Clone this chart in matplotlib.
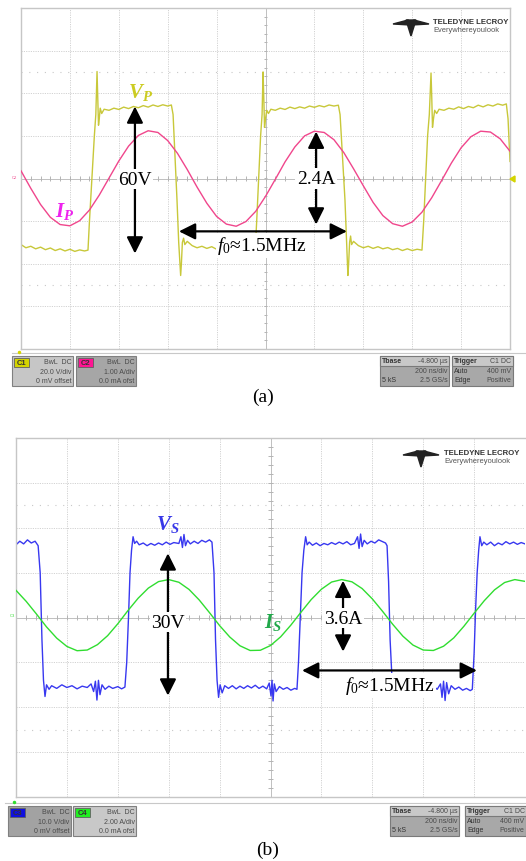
import matplotlib.pyplot as plt
from matplotlib.patches import Rectangle, Polygon
import numpy as np

plt.rcParams['mathtext.fontset'] = 'custom'
plt.rcParams['mathtext.rm'] = 'Liberation Serif'
plt.rcParams['mathtext.it'] = 'Liberation Serif:italic'
plt.rcParams['mathtext.bf'] = 'Liberation Serif:bold:italic'

# ---------------- data read off the two scope captures ----------------
# time in ns, 0 = centre of screen, 200 ns/div
t_sine = list(range(-1000, 1001, 40))

# (a) primary current I_P in A (1 A/div)
ip = [0.18, -0.23, -0.61, -0.91, -1.08, -1.11, -0.99, -0.74, -0.39, 0.01,
      0.41, 0.76, 1.01, 1.12, 1.08, 0.89, 0.59, 0.21, -0.20, -0.58,
      -0.89, -1.07, -1.12, -1.01, -0.77, -0.42, -0.02, 0.39, 0.74, 1.00,
      1.11, 1.08, 0.91, 0.61, 0.23, -0.17, -0.56, -0.87, -1.06, -1.12,
      -1.02, -0.79, -0.45, -0.05, 0.36, 0.72, 0.98, 1.11, 1.09, 0.93, 0.64]

# (a) primary voltage V_P in V (20 V/div): (time, volts)
vp = [(-1000, -31.0), (-980, -32.5), (-960, -31.8), (-940, -33.0), (-920, -32.2),
      (-900, -33.4), (-880, -32.6), (-860, -33.8), (-840, -33.0), (-820, -34.0),
      (-800, -33.2), (-780, -34.2), (-760, -33.5), (-740, -34.0), (-726, -33.6),
      (-720, -20), (-710, 0), (-700, 20), (-694, 30), (-689, 50.2), (-686, 38),
      (-683, 25), (-680, 28), (-676, 33), (-670, 30.5), (-660, 32.5),
      (-640, 32.0), (-620, 33.0), (-600, 32.4), (-580, 33.5), (-560, 32.8),
      (-540, 33.8), (-520, 33.2), (-500, 34.2), (-480, 33.5), (-460, 34.5),
      (-440, 33.8), (-420, 34.6), (-400, 34.0), (-385, 34.5),
      (-378, 30), (-370, 10), (-362, -10), (-355, -30), (-350, -40), (-347, -45.5),
      (-344, -40), (-340, -30), (-335, -28), (-330, -31), (-320, -29.5),
      (-300, -31.5), (-280, -32.5), (-260, -31.8), (-240, -32.8), (-220, -32.0),
      (-200, -33.2), (-180, -32.5), (-160, -33.5), (-140, -32.8), (-120, -33.8),
      (-100, -33.0), (-80, -33.6), (-60, -33.2), (-42, -33.5),
      (-36, -20), (-28, 0), (-20, 20), (-14, 30), (-10, 50.0), (-7, 38),
      (-4, 24), (0, 28), (5, 32), (12, 30.5), (22, 32.5),
      (40, 32.0), (60, 33.0), (80, 32.4), (100, 33.5), (120, 32.8), (140, 33.6),
      (160, 33.0), (180, 34.0), (200, 33.4), (220, 34.2), (240, 33.6), (260, 34.5),
      (280, 34.0), (298, 34.4),
      (305, 30), (315, 10), (325, -10), (332, -30), (337, -45.5), (340, -40),
      (344, -30), (348, -27), (352, -31), (360, -29.5),
      (380, -31.5), (400, -32.5), (420, -31.8), (440, -32.8), (460, -32.0),
      (480, -33.0), (500, -32.4), (520, -33.4), (540, -32.8), (560, -33.8),
      (580, -33.0), (600, -33.8), (620, -33.2), (640, -33.6),
      (647, -20), (655, 0), (663, 20), (670, 30), (677, 49.5), (680, 38),
      (683, 24), (687, 28), (692, 32), (700, 30.5), (710, 32.5),
      (730, 32.0), (750, 33.0), (770, 32.5), (790, 33.6), (810, 32.8), (830, 33.8),
      (850, 33.2), (870, 34.4), (890, 33.6), (910, 34.6), (930, 34.0), (950, 35.0),
      (970, 34.4), (985, 35.0), (992, 28), (1000, 8)]

# (b) secondary current I_S in A (2 A/div)
i_s = [1.21, 0.72, 0.16, -0.42, -0.92, -1.29, -1.48, -1.45, -1.21, -0.81,
       -0.28, 0.31, 0.86, 1.31, 1.60, 1.69, 1.57, 1.25, 0.78, 0.22,
       -0.36, -0.87, -1.26, -1.47, -1.46, -1.25, -0.86, -0.34, 0.24, 0.80,
       1.26, 1.58, 1.69, 1.59, 1.29, 0.83, 0.28, -0.30, -0.83, -1.23,
       -1.45, -1.47, -1.28, -0.91, -0.39, 0.19, 0.75, 1.23, 1.56, 1.69, 1.61]

# (b) secondary voltage V_S in V (10 V/div): (time, volts)
vs = [(-1000, 16.2), (-985, 17.0), (-970, 16.4), (-955, 17.3), (-940, 16.6),
      (-925, 17.0), (-913, 16.0),
      (-905, 10), (-898, -5), (-892, -14), (-886, -17.6), (-880, -15.0), (-870, -16.0),
      (-860, -15.2), (-840, -15.8), (-820, -15.0), (-800, -15.6), (-780, -15.2),
      (-760, -15.9), (-740, -15.3), (-720, -15.6), (-705, -14.8), (-695, -16.5),
      (-688, -14.2), (-682, -18.4), (-676, -14.0), (-670, -17.2), (-662, -15.0),
      (-650, -16.0), (-635, -15.3), (-620, -15.8), (-600, -15.4), (-585, -15.9),
      (-572, -15.5),
      (-565, -10), (-558, 0), (-552, 10), (-546, 15), (-540, 18.0), (-534, 16.5),
      (-526, 17.0), (-516, 16.2),
      (-500, 16.6), (-485, 16.0), (-470, 16.5), (-455, 16.1), (-440, 16.6),
      (-425, 16.2), (-410, 16.8), (-395, 16.3), (-380, 16.7), (-360, 16.5),
      (-352, 18.0), (-346, 15.6), (-340, 18.5), (-334, 16.0), (-326, 17.2),
      (-315, 16.4), (-300, 17.0), (-285, 16.5), (-270, 17.2), (-255, 16.8),
      (-240, 17.3), (-230, 16.8),
      (-222, 10), (-216, -5), (-210, -14), (-204, -17.8), (-198, -15.0),
      (-190, -16.8), (-180, -15.2),
      (-165, -15.8), (-150, -15.2), (-135, -15.9), (-120, -15.3), (-105, -15.8),
      (-90, -15.2), (-75, -15.7), (-60, -15.1), (-45, -15.8), (-30, -15.3),
      (-15, -15.9), (-5, -14.6), (2, -17.5), (6, -14.0), (10, -18.6), (15, -14.8),
      (22, -16.5), (35, -15.4), (50, -16.0), (65, -15.6), (80, -16.2), (95, -15.8),
      (104, -16.0),
      (110, -10), (117, 0), (124, 10), (131, 15), (138, 18.0), (144, 16.2),
      (152, 16.8), (165, 16.1),
      (180, 16.6), (195, 16.0), (210, 16.5), (225, 16.2), (240, 16.7), (255, 16.3),
      (270, 16.8), (285, 16.4), (300, 16.9), (315, 16.2), (330, 16.5), (342, 18.0),
      (348, 15.4), (354, 18.6), (360, 15.8), (368, 17.2), (380, 16.4), (395, 17.0),
      (410, 16.6), (425, 17.3), (440, 16.9), (452, 16.6), (458, 16.0),
      (464, 8), (470, -5), (476, -12), (481, -16.5), (490, -15.0),
      (505, -15.8), (520, -15.2), (535, -15.9), (550, -15.3), (565, -15.8),
      (580, -15.2), (595, -15.7), (610, -15.4), (625, -15.9), (640, -15.3),
      (655, -16.0), (668, -14.8), (674, -17.8), (680, -14.2), (686, -18.5),
      (692, -14.5), (700, -17.0), (710, -15.2), (725, -16.0), (740, -15.5),
      (755, -16.2), (770, -15.8), (785, -16.3), (793, -16.0),
      (800, -8), (806, 2), (812, 10), (818, 15), (823, 18.0), (830, 16.0),
      (838, 16.8), (850, 16.2),
      (865, 16.8), (880, 16.0), (895, 16.6), (910, 16.2), (925, 16.9), (940, 16.4),
      (955, 16.8), (970, 16.3), (985, 16.7), (1000, 16.4)]

# scope settings (units per division)
vp_div, ip_div = 20.0, 1.0
vs_div, is_div = 10.0, 2.0

W, H = 526, 862
fig = plt.figure(figsize=(W / 100, H / 100), dpi=100)


def px_axes(x0, y0, x1, y1):
    return fig.add_axes([x0 / W, 1 - y1 / H, (x1 - x0) / W, (y1 - y0) / H])


def screen(ax, tick_ns, tick_div):
    ax.set_xlim(-1000, 1000)
    ax.set_ylim(-4, 4)
    ax.set_xticks([])
    ax.set_yticks([])
    for s in ax.spines.values():
        s.set_color('#c6c6c6')
        s.set_linewidth(1.0)
    grid = dict(color='#d2d2d2', lw=0.7, ls=(0, (1.2, 1.2)), zorder=0)
    for x in range(-800, 1000, 200):
        if x != 0:
            ax.axvline(x, **grid)
    for y in [-3, -2, -1, 1, 2, 3]:
        ax.axhline(y, **grid)
    for y in [-2.5, 2.5]:
        ax.axhline(y, color='#c8c8c8', lw=0.8, ls=(0, (1, 6)), zorder=0)
    ax.axhline(0, color='#c0c0c0', lw=0.7, zorder=0)
    ax.axvline(0, color='#c0c0c0', lw=0.7, zorder=0)
    ax.vlines(np.arange(-1000, 1001, 40), -tick_div, tick_div, color='#b4b4b4', lw=0.7, zorder=0)
    ax.hlines(np.arange(-4, 4.01, 0.2), -tick_ns, tick_ns, color='#b4b4b4', lw=0.7, zorder=0)


arrow = dict(arrowstyle='<|-|>,head_length=0.9,head_width=0.45', mutation_scale=11,
             lw=1.6, color='black', shrinkA=0, shrinkB=0)
serif = ['Liberation Serif', 'DejaVu Serif']
wbox = dict(boxstyle='square,pad=0.08', fc='white', ec='none')

# ---------------- panel (a) ----------------
ax1 = px_axes(21, 9, 510, 350)
screen(ax1, 8, 0.05)
ax1.plot([p[0] for p in vp], np.array([p[1] for p in vp]) / vp_div, color='#c8c83a', lw=1.0, zorder=2)
ax1.plot(t_sine, np.array(ip) / ip_div, color='#f0468c', lw=1.0, zorder=3)

ax1.annotate('', xy=(-534, 1.69), xytext=(-534, -1.76), arrowprops=arrow, zorder=5)
ax1.text(-534, -0.02, '60V', fontsize=14, family=serif, ha='center', va='center', bbox=wbox, zorder=6)
ax1.annotate('', xy=(207, 1.10), xytext=(207, -1.08), arrowprops=arrow, zorder=5)
ax1.text(207, 0.0, '2.4A', fontsize=14, family=serif, ha='center', va='center', bbox=wbox, zorder=6)
ax1.annotate('', xy=(-354, -1.24), xytext=(333, -1.24), arrowprops=arrow, zorder=5)
ax1.text(-14, -1.57, r'$f_0$≈1.5MHz', fontsize=14, family=serif, ha='center', va='center', bbox=wbox, zorder=6)
ax1.text(-513, 2.04, r'$\mathbf{V_P}$', fontsize=15, color='#cccc22', ha='center', va='center', zorder=6)
ax1.text(-820, -0.75, r'$\mathbf{I_P}$', fontsize=15, color='#ee22ee', ha='center', va='center', zorder=6)

# ---------------- panel (b) ----------------
ax2 = px_axes(16, 439, 525, 798)
screen(ax2, 8, 0.045)
ax2.spines['right'].set_visible(False)
ax2.plot([p[0] for p in vs], np.array([p[1] for p in vs]) / vs_div, color='#3838f0', lw=1.0, zorder=2)
ax2.plot(t_sine, np.array(i_s) / is_div, color='#30dd30', lw=1.0, zorder=3)

ax2.annotate('', xy=(-403, 1.43), xytext=(-403, -1.74), arrowprops=arrow, zorder=5)
ax2.text(-403, -0.11, '30V', fontsize=14, family=serif, ha='center', va='center', bbox=wbox, zorder=6)
ax2.annotate('', xy=(285, 0.82), xytext=(285, -0.76), arrowprops=arrow, zorder=5)
ax2.text(285, -0.02, '3.6A', fontsize=14, family=serif, ha='center', va='center', bbox=wbox, zorder=6)
ax2.annotate('', xy=(124, -1.18), xytext=(811, -1.18), arrowprops=arrow, zorder=5)
ax2.text(470, -1.51, r'$f_0$≈1.5MHz', fontsize=14, family=serif, ha='center', va='center', bbox=wbox, zorder=6)
ax2.text(-403, 2.09, r'$\mathbf{V_S}$', fontsize=15, color='#3838e8', ha='center', va='center', zorder=6)
ax2.text(10, -0.09, r'$\mathbf{I_S}$', fontsize=15, color='#20a84a', ha='center', va='center', zorder=6)

# ---------------- overlay: logo, status bar, captions ----------------
ov = fig.add_axes([0, 0, 1, 1])
ov.set_xlim(0, W)
ov.set_ylim(H, 0)
ov.axis('off')
sans = ['Liberation Sans', 'DejaVu Sans']
tc = '#4a4a4a'


def logo(cx, cy, tx):
    ov.add_patch(Polygon([(cx - 18, cy + 1), (cx - 3, cy - 3), (cx - 1, cy + 2)], color='#222222'))
    ov.add_patch(Polygon([(cx + 18, cy + 1), (cx + 3, cy - 3), (cx + 1, cy + 2)], color='#222222'))
    ov.add_patch(Polygon([(cx - 5, cy - 3), (cx + 5, cy - 3), (cx, cy + 13)], color='#222222'))
    ov.text(tx, cy - 1, 'TELEDYNE LECROY', fontsize=5.6, family=sans, fontweight='bold',
            color='#333333', va='center', ha='left')
    ov.text(tx, cy + 7, 'Everywhereyoulook', fontsize=5.4, family=sans,
            color='#555555', va='center', ha='left')


def chan_box(x0, x1, y0, tag, tag_c, fc, lines):
    ov.add_patch(Rectangle((x0, y0), x1 - x0, 30, fc=fc, ec='#808080', lw=0.8))
    ov.add_patch(Rectangle((x0 + 2, y0 + 2), 15, 9, fc=tag_c, ec='#606060', lw=0.6))
    ov.text(x0 + 9.5, y0 + 6.5, tag, fontsize=5.5, family=sans, fontweight='bold',
            color='#333333', ha='center', va='center')
    for k, s in enumerate(lines):
        ov.text(x1 - 1.5, y0 + 6 + 9.5 * k, s, fontsize=5, family=sans, color=tc, ha='right', va='center')


def info_box(x0, x1, y0, rows):
    ov.add_patch(Rectangle((x0, y0), x1 - x0, 30, fc='#a8a8a8', ec='#7a7a7a', lw=0.8))
    ov.add_patch(Rectangle((x0, y0), x1 - x0, 10, fc='#c8c8c8', ec='#7a7a7a', lw=0.8))
    for k, (l, r) in enumerate(rows):
        fw = 'bold' if k == 0 else 'normal'
        ov.text(x0 + 2, y0 + 5 + 9.5 * k, l, fontsize=5, family=sans, color='#333333',
                fontweight=fw, ha='left', va='center')
        ov.text(x1 - 1.5, y0 + 5 + 9.5 * k, r, fontsize=5, family=sans, color=tc, ha='right', va='center')


def status(y0, chans, tb_x, tr_x, line_x0):
    ov.plot([line_x0, W], [y0 - 3, y0 - 3], color='#c8c8c8', lw=0.8)
    for c in chans:
        chan_box(*c[:2], y0, *c[2:])
    info_box(tb_x, tb_x + 69, y0, [('Tbase', '-4.800 µs'), ('', '200 ns/div'), ('5 kS', '2.5 GS/s')])
    info_box(tr_x, tr_x + 61, y0, [('Trigger', 'C1 DC'), ('Auto', '400 mV'), ('Edge', 'Positive')])


logo(411, 24, 433)
logo(421, 455, 444)

status(357, [(12, 73, 'C1', '#d4d400', '#c6c6c6', ['BwL  DC', '20.0 V/div', '0 mV offset']),
             (76, 136, 'C2', '#ff1493', '#a6a6a6', ['BwL  DC', '1.00 A/div', '0.0 mA ofst'])],
       380, 452, 12)
status(807, [(8, 71, 'C3', '#1010e0', '#a2a2a2', ['BwL  DC', '10.0 V/div', '0 mV offset']),
             (73, 136, 'C4', '#22ee22', '#c8c8c8', ['BwL  DC', '2.00 A/div', '0.0 mA ofst'])],
       390, 465, 5)

# small channel / trigger markers
ov.text(14, 178, 'C2', fontsize=3, color='#f0468c', ha='center', va='center', family=sans)
ov.text(12, 616, 'C3', fontsize=3, color='#30dd30', ha='center', va='center', family=sans)
ov.add_patch(Polygon([(510, 180), (515, 177), (515, 183)], color='#d4d400'))
ov.plot([19], [353], marker='o', ms=1.5, color='#d4d400')
ov.plot([14], [803], marker='o', ms=1.5, color='#30dd30')

ov.text(263, 397, '(a)', fontsize=14, family=serif, ha='center', va='center')
ov.text(268, 850, '(b)', fontsize=14, family=serif, ha='center', va='center')

fig.savefig('out.png', dpi=100)
